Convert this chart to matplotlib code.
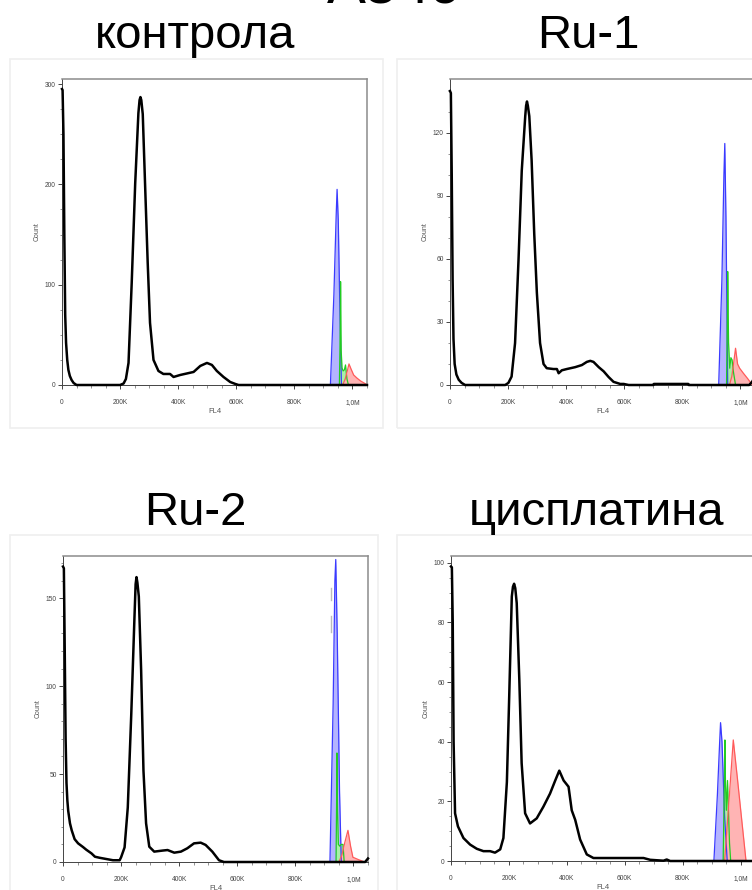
import matplotlib.pyplot as plt
from matplotlib.patches import Rectangle
from matplotlib.ticker import MultipleLocator

plt.rcParams['font.family'] = ['Liberation Sans', 'DejaVu Sans']

# FL4 in thousands, counts per channel
ctrl_x = [0, 2, 5, 8, 11, 14, 18, 22, 27, 33, 40, 50, 200, 212, 220, 229, 240, 252, 263, 267, 270, 273, 278, 286,
          295, 303, 315, 332, 349, 372, 384, 407, 430, 453, 476, 499, 516, 533, 556, 579, 597, 608, 1050]
ctrl_y = [295, 294, 250, 150, 70, 42, 25, 15, 9, 5, 2, 0, 0, 1.5, 6, 22, 102, 201, 271, 284, 287, 284, 270, 200,
          122, 62, 25, 14, 11, 11, 8, 10, 11.5, 13, 19, 22, 20, 14, 8, 3, 1, 0, 0]
ctrl_blue = ([924, 936, 944, 947, 951, 957, 962], [0, 90, 170, 195, 165, 70, 0])
ctrl_green = ([955, 958, 959, 961, 964, 968, 972, 976, 981, 986], [0, 60, 103, 35, 17, 14, 15, 20, 6, 0])
ctrl_red = ([966, 975, 983, 988, 995, 1004, 1015, 1028, 1040, 1051], [0, 6, 15, 21, 16, 10, 7, 4, 2, 0])

ru1_x = [0, 3, 6, 9, 12, 16, 22, 30, 40, 52, 190, 201, 212, 224, 236, 247, 259, 262, 265, 268, 273, 281, 290, 299,
         310, 322, 333, 356, 368, 374, 385, 402, 431, 454, 471, 483, 494, 512, 529, 546, 563, 586, 598, 615, 700,
         702, 820, 822, 1030, 1040, 1050]
ru1_y = [140, 139, 100, 50, 22, 10, 5, 2.5, 1, 0, 0, 1, 4, 20, 60, 102, 128, 133, 135, 133, 128, 107, 72, 44,
         20, 10, 8, 7.6, 7.6, 5.6, 7, 7.6, 8.5, 9.5, 11, 11.5, 11, 8.5, 6.5, 3.8, 1.5, 0.5, 0.5, 0, 0,
         0.5, 0.5, 0, 0, 1.5, 4]
ru1_blue = ([925, 936, 943, 946, 950, 956], [0, 50, 100, 115, 80, 0])
ru1_green = ([952, 955, 956, 959, 963, 967, 971, 976, 983], [0, 35, 54, 20, 8, 13, 12, 6, 0])
ru1_red = ([962, 970, 977, 983, 990, 997, 1010, 1025, 1041], [0, 4, 11, 17.5, 10, 8, 5.6, 3, 0])

ru2_x = [0, 3, 6, 9, 12, 15, 18, 24, 30, 40, 52, 69, 80, 98, 110, 126, 149, 172, 195, 200, 212, 223, 235, 246,
         250, 253, 256, 261, 269, 277, 286, 297, 314, 343, 360, 383, 406, 428, 451, 474, 491, 514, 537, 554,
         1040, 1050]
ru2_y = [168, 167, 120, 70, 45, 35, 29, 22, 18, 13, 10.6, 8.5, 7, 4.9, 3, 2.4, 1.7, 1, 1, 2.7, 8.3, 31, 84, 139,
         158, 162, 159, 151, 109, 52, 22, 8.7, 5.9, 6.5, 6.8, 5.3, 5.9, 7.8, 10.6, 11, 9.7, 5.9, 1, 0,
         0, 2]
ru2_blue = ([919, 930, 936, 939, 944, 952, 958], [0, 90, 160, 172, 130, 40, 0])
ru2_green = ([940, 942, 943, 945, 948, 953, 958, 964, 968], [0, 35, 62, 30, 10, 9, 10, 10, 0])
ru2_red = ([950, 960, 970, 981, 990, 998, 1015, 1038], [0, 4, 11, 18, 9, 2.7, 1.5, 0])
ru2_gate_x = 924
ru2_gate_segs = [(149, 156), (131, 140)]

cis_x = [0, 3, 6, 9, 14, 24, 43, 66, 89, 112, 135, 152, 170, 181, 193, 201, 210, 214, 218, 222, 227, 236, 244,
         256, 273, 296, 319, 342, 360, 374, 389, 406, 417, 429, 446, 469, 492, 527, 573, 665, 688, 734, 745,
         757, 1050]
cis_y = [98.8, 98.5, 80, 40, 16, 11.6, 7.7, 5.5, 4.1, 3.3, 3.3, 2.8, 3.9, 7.7, 26.5, 55, 88.7, 92, 93, 91.5,
         86.5, 60.7, 32.8, 16, 12.6, 14.3, 18.2, 22.6, 27, 30.3, 27, 24.9, 17, 13.8, 7.2, 2.2, 1, 1, 1, 1, 0.4,
         0.1, 0.5, 0, 0]
cis_blue = ([908, 920, 928, 931, 936, 945, 954], [0, 22, 40, 46.4, 40, 15, 0])
cis_green = ([940, 944, 946, 948, 951, 955, 958, 962, 966], [0, 25, 40.6, 26, 17, 27, 18, 6, 0])
cis_red = ([945, 960, 975, 990, 1005, 1019], [0, 20, 40.6, 27, 13, 0])

x_ticks = [0, 200, 400, 600, 800, 1000]
x_labels = ['0', '200K', '400K', '600K', '800K', '1,0M']

W, H = 752, 890
fig = plt.figure(figsize=(W / 100, H / 100), dpi=100)


def px_axes(left, top, width, height):
    return fig.add_axes([left / W, (H - top - height) / H, width / W, height / H])


def frame(x0, y0, x1, y1):
    fig.patches.append(Rectangle((x0 / W, (H - y1) / H), (x1 - x0) / W, (y1 - y0) / H,
                                 transform=fig.transFigure, fill=False, ec='#efefef', lw=1.2))


def histo(ax, x, y, blue, green, red, ymax, ystep, yminor):
    for (fx, fy), fc, ec in [(blue, '#b4b4ff', '#3a3aff'), (green, '#a8f0a8', '#22cc22'),
                             (red, '#ffb4b4', '#ff5a5a')]:
        ax.fill_between(fx, fy, 0, color=fc, lw=0, zorder=2)
        ax.plot(fx, fy, color=ec, lw=0.9, zorder=3)
    ax.plot(x, y, color='black', lw=1.8, zorder=4, clip_on=False, solid_joinstyle='round')
    ax.set_xlim(0, 1050)
    ax.set_ylim(0, ymax)
    ax.set_xticks(x_ticks)
    ax.set_xticklabels(x_labels)
    ax.xaxis.set_minor_locator(MultipleLocator(50))
    ax.set_yticks(list(range(0, int(ymax) + 1, ystep)))
    ax.yaxis.set_minor_locator(MultipleLocator(yminor))
    ax.tick_params(which='major', length=3, width=0.7, color='#444444', labelsize=4.8, labelcolor='#444444')
    ax.tick_params(which='minor', length=1.8, width=0.5, color='#666666')
    ax.tick_params(axis='x', pad=7)
    ax.tick_params(axis='y', pad=1.5)
    for side in ['top', 'right']:
        ax.spines[side].set_color('#8c8c8c')
        ax.spines[side].set_linewidth(1.1)
    for side in ['left', 'bottom']:
        ax.spines[side].set_color('#444444')
        ax.spines[side].set_linewidth(0.7)
    ax.text(-0.083, 0.5, 'Count', transform=ax.transAxes, rotation=90, ha='center', va='center',
            fontsize=5, color='#555555')
    ax.text(0.5, -0.088, 'FL4', transform=ax.transAxes, ha='center', va='center', fontsize=5.5,
            color='#555555')


frame(10, 59, 383, 428)
frame(397, 59, 770, 428)
frame(10, 535, 378, 900)
frame(397, 535, 770, 900)

ax1 = px_axes(62, 79, 305, 306)
histo(ax1, ctrl_x, ctrl_y, ctrl_blue, ctrl_green, ctrl_red, 305, 100, 25)
ax2 = px_axes(450, 79, 305, 306)
histo(ax2, ru1_x, ru1_y, ru1_blue, ru1_green, ru1_red, 145.7, 30, 10)
ax3 = px_axes(63, 556, 305, 306)
histo(ax3, ru2_x, ru2_y, ru2_blue, ru2_green, ru2_red, 174, 50, 10)
for lo, hi in ru2_gate_segs:
    ax3.plot([ru2_gate_x, ru2_gate_x], [lo, hi], color='#bbbbbb', lw=1, zorder=1)
ax4 = px_axes(451, 556, 304, 305)
histo(ax4, cis_x, cis_y, cis_blue, cis_green, cis_red, 102.3, 20, 5)

fig.text(395 / W, (H - 3) / H, 'A549', ha='center', va='baseline', fontsize=42)
fig.text(195 / W, (H - 48) / H, 'контрола', ha='center', va='baseline', fontsize=34)
fig.text(588 / W, (H - 48) / H, 'Ru-1', ha='center', va='baseline', fontsize=34)
fig.text(195 / W, (H - 525) / H, 'Ru-2', ha='center', va='baseline', fontsize=34)
fig.text(597 / W, (H - 525) / H, 'цисплатина', ha='center', va='baseline', fontsize=34)

fig.savefig('out.png', dpi=100)
